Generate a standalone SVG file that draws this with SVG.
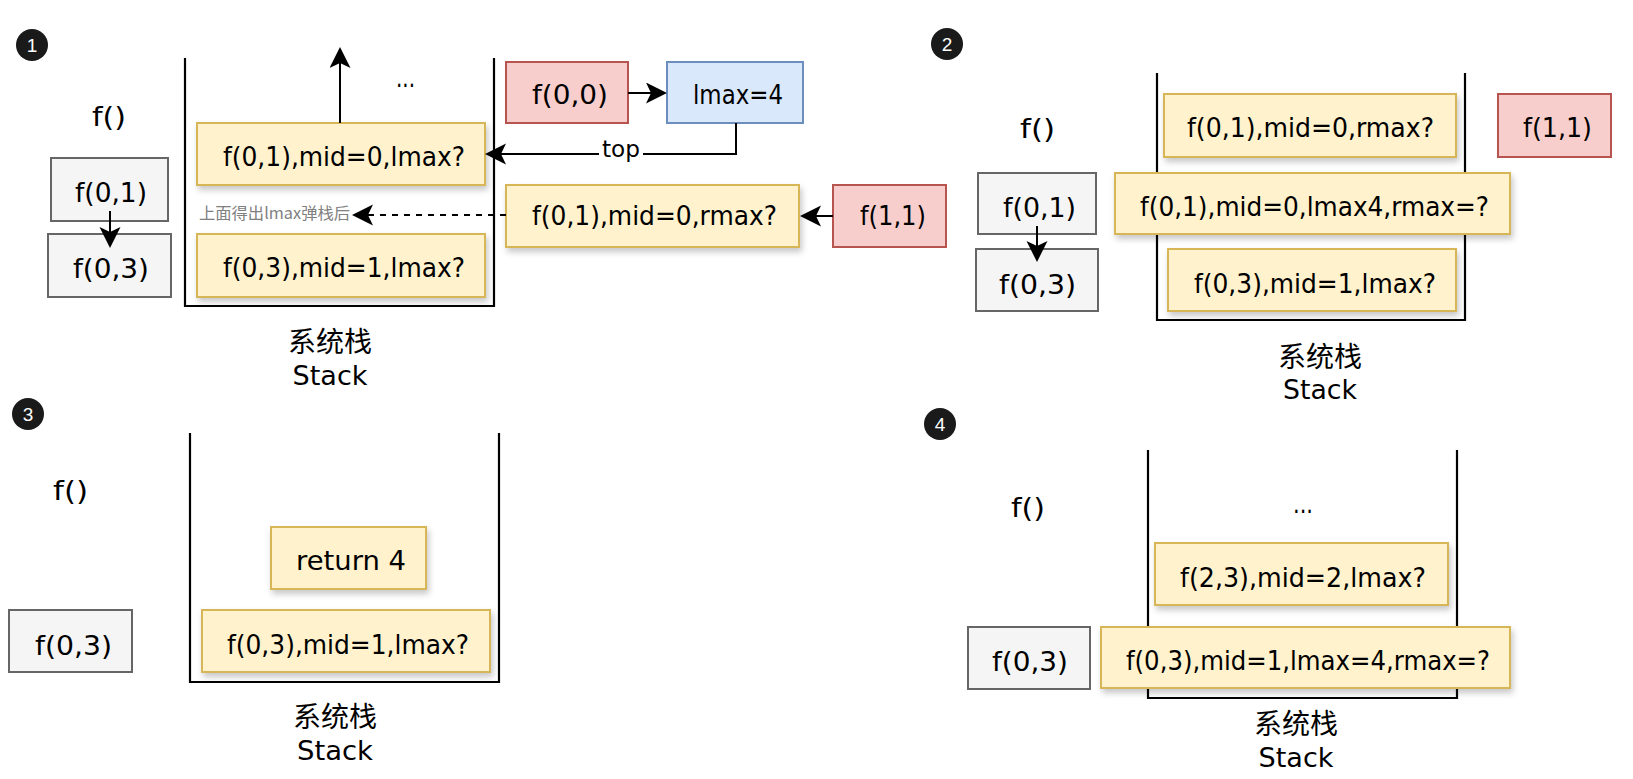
<svg xmlns="http://www.w3.org/2000/svg" width="1633" height="779" viewBox="0 0 1633 779">
<defs>
<style>
.t{font-family:"DejaVu Sans","Noto Sans",sans-serif;font-size:27px;fill:#000}
.cjk{font-family:"Noto Sans CJK SC","DejaVu Sans",sans-serif;font-size:28px;fill:#000;text-anchor:middle}
.stk{font-family:"DejaVu Sans","Noto Sans",sans-serif;font-size:27px;fill:#000;text-anchor:middle}
.y{fill:#fff2cc;stroke:#d6b656;stroke-width:2;filter:url(#sh)}
.g{fill:#f5f5f5;stroke:#666666;stroke-width:2}
.r{fill:#f8cecc;stroke:#b85450;stroke-width:2}
.b{fill:#dae8fc;stroke:#6c8ebf;stroke-width:2}
.wall{fill:none;stroke:#000;stroke-width:2.2}
.c{fill:none;stroke:#000;stroke-width:2;marker-end:url(#arr)}
.num{font-family:"Liberation Sans",Arial,sans-serif;font-size:19px;fill:#fff;text-anchor:middle}
</style>
<filter id="sh" x="-10%" y="-20%" width="125%" height="160%">
<feDropShadow dx="2" dy="4" stdDeviation="3" flood-color="#000" flood-opacity="0.22"/>
</filter>
<marker id="arr" markerWidth="22" markerHeight="22" refX="17" refY="10.5" orient="auto" markerUnits="userSpaceOnUse">
<path d="M0,0 L21,10.5 L0,21 L5,10.5 Z" fill="#000"/>
</marker>
</defs>

<!-- Panel 1 -->
<g id="p1">
<g id="p1-num"><circle cx="32" cy="45" r="16" fill="#1a1a1a"/><text class="num" x="32" y="52">1</text></g>
<g id="p1-f"><text class="t" x="92" y="126" textLength="34" lengthAdjust="spacingAndGlyphs">f()</text></g>
<path id="p1-stack" class="wall" d="M185,58 V306 H494 V58"/>
<g id="p1-dots"><text class="t" x="396" y="87" textLength="19" lengthAdjust="spacingAndGlyphs" fill="#1a1a4e">...</text></g>
<g id="p1-call1"><rect class="g" x="51" y="158" width="117" height="63"/><text class="t" x="75" y="202" textLength="72" lengthAdjust="spacingAndGlyphs">f(0,1)</text></g>
<g id="p1-call2"><rect class="g" x="48" y="234" width="123" height="63"/><text class="t" x="73" y="278" textLength="76" lengthAdjust="spacingAndGlyphs">f(0,3)</text></g>
<g id="p1-s1"><rect class="y" x="197" y="123" width="288" height="62"/><text class="t" x="223" y="166" textLength="242" lengthAdjust="spacingAndGlyphs">f(0,1),mid=0,lmax?</text></g>
<g id="p1-s2"><rect class="y" x="197" y="234" width="288" height="63"/><text class="t" x="223" y="277" textLength="242" lengthAdjust="spacingAndGlyphs">f(0,3),mid=1,lmax?</text></g>
<g id="p1-f00"><rect class="r" x="506" y="62" width="122" height="61"/><text class="t" x="532" y="104" textLength="76" lengthAdjust="spacingAndGlyphs">f(0,0)</text></g>
<g id="p1-lmax"><rect class="b" x="667" y="62" width="136" height="61"/><text class="t" x="693" y="104" textLength="90" lengthAdjust="spacingAndGlyphs">lmax=4</text></g>
<g id="p1-rmax"><rect class="y" x="506" y="185" width="293" height="62"/><text class="t" x="532" y="225" textLength="245" lengthAdjust="spacingAndGlyphs">f(0,1),mid=0,rmax?</text></g>
<g id="p1-f11"><rect class="r" x="833" y="185" width="113" height="62"/><text class="t" x="860" y="225" textLength="66" lengthAdjust="spacingAndGlyphs">f(1,1)</text></g>
<g id="p1-label"><text class="cjk" x="330" y="352">系统栈</text><text class="stk" x="330" y="385" textLength="75" lengthAdjust="spacingAndGlyphs">Stack</text></g>
</g>

<!-- Panel 2 -->
<g id="p2">
<g id="p2-num"><circle cx="947" cy="44" r="16" fill="#1a1a1a"/><text class="num" x="947" y="51">2</text></g>
<g id="p2-f"><text class="t" x="1020" y="138" textLength="35" lengthAdjust="spacingAndGlyphs">f()</text></g>
<path id="p2-stack" class="wall" d="M1157,73 V320 H1465 V73"/>
<g id="p2-call1"><rect class="g" x="978" y="173" width="118" height="61"/><text class="t" x="1003" y="217" textLength="73" lengthAdjust="spacingAndGlyphs">f(0,1)</text></g>
<g id="p2-call2"><rect class="g" x="976" y="249" width="122" height="62"/><text class="t" x="999" y="294" textLength="77" lengthAdjust="spacingAndGlyphs">f(0,3)</text></g>
<g id="p2-s1"><rect class="y" x="1164" y="94" width="292" height="63"/><text class="t" x="1187" y="137" textLength="247" lengthAdjust="spacingAndGlyphs">f(0,1),mid=0,rmax?</text></g>
<g id="p2-s3"><rect class="y" x="1168" y="249" width="288" height="62"/><text class="t" x="1194" y="293" textLength="242" lengthAdjust="spacingAndGlyphs">f(0,3),mid=1,lmax?</text></g>
<g id="p2-s2"><rect class="y" x="1115" y="173" width="395" height="61"/><text class="t" x="1140" y="216" textLength="349" lengthAdjust="spacingAndGlyphs">f(0,1),mid=0,lmax4,rmax=?</text></g>
<g id="p2-f11"><rect class="r" x="1498" y="94" width="113" height="63"/><text class="t" x="1523" y="137" textLength="69" lengthAdjust="spacingAndGlyphs">f(1,1)</text></g>
<g id="p2-label"><text class="cjk" x="1320" y="367">系统栈</text><text class="stk" x="1320" y="399" textLength="74" lengthAdjust="spacingAndGlyphs">Stack</text></g>
</g>

<!-- Panel 3 -->
<g id="p3">
<g id="p3-num"><circle cx="28" cy="414" r="16" fill="#1a1a1a"/><text class="num" x="28" y="421">3</text></g>
<g id="p3-f"><text class="t" x="53" y="500" textLength="35" lengthAdjust="spacingAndGlyphs">f()</text></g>
<path id="p3-stack" class="wall" d="M190,433 V682 H499 V433"/>
<g id="p3-call"><rect class="g" x="9" y="610" width="123" height="62"/><text class="t" x="35" y="655" textLength="77" lengthAdjust="spacingAndGlyphs">f(0,3)</text></g>
<g id="p3-ret"><rect class="y" x="271" y="527" width="155" height="62"/><text class="t" x="296" y="570" textLength="110" lengthAdjust="spacingAndGlyphs">return 4</text></g>
<g id="p3-s1"><rect class="y" x="202" y="610" width="288" height="62"/><text class="t" x="227" y="654" textLength="242" lengthAdjust="spacingAndGlyphs">f(0,3),mid=1,lmax?</text></g>
<g id="p3-label"><text class="cjk" x="335" y="727">系统栈</text><text class="stk" x="335" y="760" textLength="76" lengthAdjust="spacingAndGlyphs">Stack</text></g>
</g>

<!-- Panel 4 -->
<g id="p4">
<g id="p4-num"><circle cx="940" cy="424" r="16" fill="#1a1a1a"/><text class="num" x="940" y="431">4</text></g>
<g id="p4-f"><text class="t" x="1011" y="517" textLength="34" lengthAdjust="spacingAndGlyphs">f()</text></g>
<path id="p4-stack" class="wall" d="M1148,450 V698 H1457 V450"/>
<g id="p4-dots"><text class="t" x="1293" y="513" textLength="20" lengthAdjust="spacingAndGlyphs">...</text></g>
<g id="p4-call"><rect class="g" x="968" y="627" width="122" height="62"/><text class="t" x="992" y="671" textLength="76" lengthAdjust="spacingAndGlyphs">f(0,3)</text></g>
<g id="p4-s2"><rect class="y" x="1155" y="543" width="293" height="62"/><text class="t" x="1180" y="587" textLength="246" lengthAdjust="spacingAndGlyphs">f(2,3),mid=2,lmax?</text></g>
<g id="p4-s1"><rect class="y" x="1101" y="627" width="409" height="61"/><text class="t" x="1126" y="670" textLength="364" lengthAdjust="spacingAndGlyphs">f(0,3),mid=1,lmax=4,rmax=?</text></g>
<g id="p4-label"><text class="cjk" x="1296" y="734">系统栈</text><text class="stk" x="1296" y="767" textLength="75" lengthAdjust="spacingAndGlyphs">Stack</text></g>
</g>

<!-- Connectors -->
<g id="connectors">
<path class="c" d="M110,211 V244"/>
<path class="c" d="M340,123 V51"/>
<path class="c" d="M628,93 H663"/>
<path class="c" d="M736,123 V154 H489"/>
<rect x="599" y="140" width="44" height="24" fill="#fff"/>
<text x="602" y="157" font-family="DejaVu Sans, sans-serif" font-size="23" textLength="38" lengthAdjust="spacingAndGlyphs">top</text>
<path class="c" d="M833,216 H804"/>
<path class="c" d="M506,215 H356" stroke-dasharray="6 6"/>
<text x="199" y="219" font-family="Noto Sans CJK SC, DejaVu Sans, sans-serif" font-size="16" fill="#808080" textLength="151" lengthAdjust="spacingAndGlyphs">上面得出lmax弹栈后</text>
<path class="c" d="M1037,226 V258"/>
</g>
</svg>
